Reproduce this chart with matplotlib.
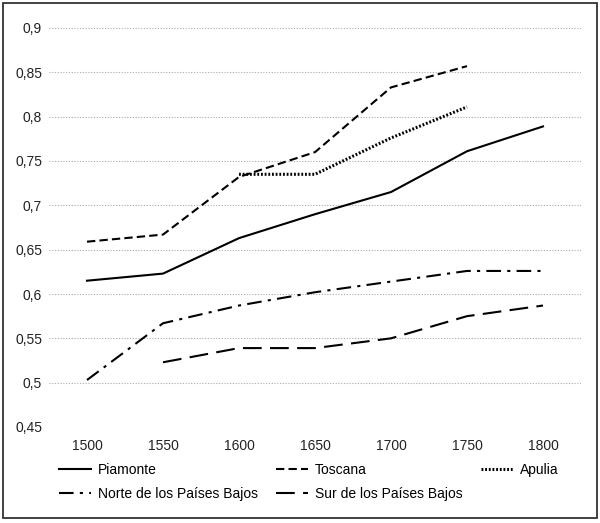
import matplotlib
matplotlib.use("Agg")
import matplotlib.pyplot as plt
from matplotlib.patches import Rectangle
from matplotlib.ticker import FuncFormatter

plt.rcParams['font.family'] = ['Liberation Sans', 'DejaVu Sans']

years = [1500, 1550, 1600, 1650, 1700, 1750, 1800]
piamonte = [0.615, 0.623, 0.663, 0.690, 0.715, 0.761, 0.789]
toscana = [0.659, 0.667, 0.732, 0.760, 0.833, 0.857]
apulia_years = [1600, 1650, 1700, 1750]
apulia = [0.735, 0.735, 0.776, 0.811]
norte = [0.503, 0.567, 0.587, 0.602, 0.614, 0.626, 0.626]
sur_years = [1550, 1600, 1650, 1700, 1750, 1800]
sur = [0.523, 0.539, 0.539, 0.550, 0.575, 0.587]
yticks = [0.45, 0.5, 0.55, 0.6, 0.65, 0.7, 0.75, 0.8, 0.85, 0.9]

fig = plt.figure(figsize=(6.0, 5.23), dpi=100)
ax = fig.add_axes([49/600, 1-427/523, 532/600, 399/523])

lw = 1.5
l1, = ax.plot(years, piamonte, color='black', lw=lw, ls='-', label='Piamonte')
l2, = ax.plot(years[:6], toscana, color='black', lw=lw, ls=(0, (4, 2)), label='Toscana')
l3, = ax.plot(apulia_years, apulia, color='black', lw=2.2, ls=(0, (0.6, 0.6)), label='Apulia')
l4, = ax.plot(years, norte, color='black', lw=lw, ls=(0, (7, 3, 1.5, 3)), label='Norte de los Países Bajos')
l5, = ax.plot(sur_years, sur, color='black', lw=lw, ls=(0, (9, 4)), label='Sur de los Países Bajos')

ax.set_xlim(1475, 1825)
ax.set_ylim(0.45, 0.9)
ax.set_xticks(years)
ax.set_yticks(yticks)
ax.yaxis.set_major_formatter(FuncFormatter(lambda v, p: ('%g' % round(v, 2)).replace('.', ',')))
ax.grid(axis='y', color='#aaaaaa', ls=(0, (1, 1.5)), lw=0.8)
ax.set_axisbelow(True)
for s in ax.spines.values():
    s.set_visible(False)
ax.tick_params(length=0, labelsize=10, colors='#222222', pad=5)
ax.tick_params(axis='x', pad=9)

handles = [l1, l4, l2, l5, l3]
fig.legend(handles=handles, labels=[h.get_label() for h in handles], ncol=3, mode='expand',
           loc='upper left', bbox_to_anchor=(56/600, 1-510/523, 505/600, 50/523), frameon=False,
           fontsize=10, handlelength=2.3, handletextpad=0.5, labelspacing=0.75, borderaxespad=0,
           borderpad=0.2)

fig.patches.append(Rectangle((3/600, 1-518/523), 594/600, 515/523, transform=fig.transFigure,
                             fill=False, edgecolor='#333333', lw=1.3))

fig.savefig('out.png', dpi=100)
